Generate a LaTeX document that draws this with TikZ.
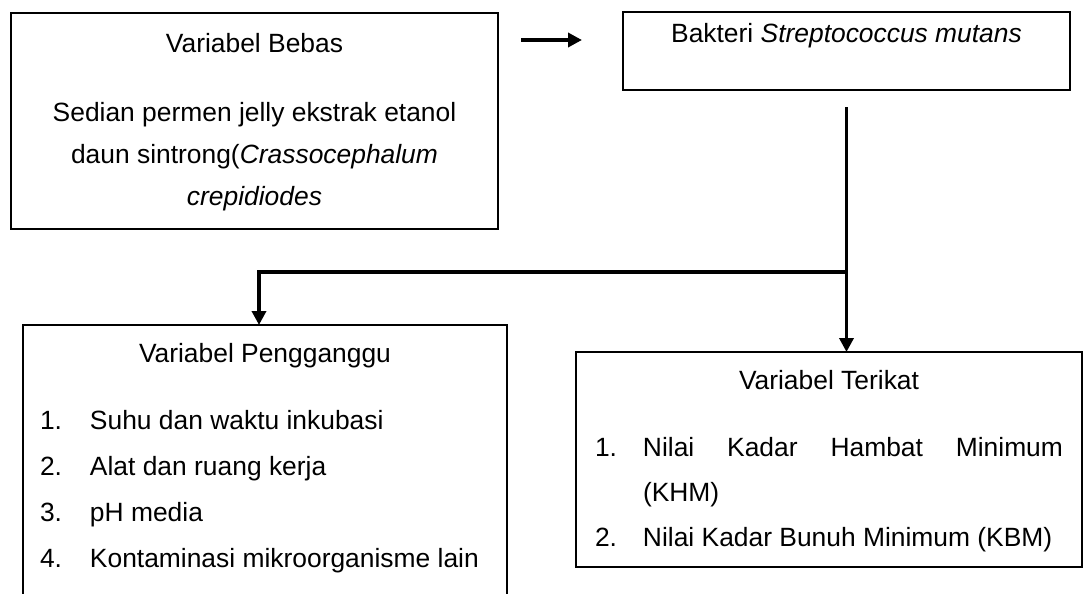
\documentclass[tikz,border=0pt]{standalone}
\usepackage{fontspec}
\setmainfont{Liberation Sans}
\usetikzlibrary{arrows.meta, positioning, calc}

\newcommand{\vitem}[3]{\noindent\hangindent=#1\hangafter=1 \makebox[#1][l]{#2}#3\par}

\begin{document}
\begin{tikzpicture}[
  x=0.5pt, y=-0.5pt,
  varbox/.style={draw, line width=1.25pt, anchor=north west, outer sep=0pt, font=\fontsize{13.2}{21}\selectfont},
  link/.style={line width=1.8pt, -{Triangle[length=7pt, width=7pt]}},
]
  \useasboundingbox (0,0) rectangle (1084,594);

  \node[varbox, inner xsep=10pt, inner ysep=10pt] (bebas) at (11,13) {%
    \parbox[t][88pt][t]{223.5pt}{\centering
      Variabel Bebas\\[13.8pt]
      Sedian permen jelly ekstrak etanol\\
      daun sintrong(\textit{Crassocephalum}\\
      \textit{crepidiodes}}%
  };
  \node[varbox, inner xsep=10pt, inner ysep=5.75pt] (bakteri) at (623,12) {%
    \parbox[t][27.5pt][t]{203.5pt}{\centering
      Bakteri \textit{Streptococcus mutans}}%
  };
  \node[varbox, inner xsep=8.5pt, inner ysep=9.25pt, font=\fontsize{13.2}{23}\selectfont] (ganggu) at (23,325) {%
    \parbox[t][139pt][t]{225pt}{%
      {\centering Variabel Pengganggu\par}
      \vspace{10.5pt}
      \vitem{25pt}{1.}{Suhu dan waktu inkubasi}
      \vitem{25pt}{2.}{Alat dan ruang kerja}
      \vitem{25pt}{3.}{pH media}
      \vitem{25pt}{4.}{Kontaminasi mikroorganisme lain}}%
  };
  \node[varbox, inner xsep=9.5pt, inner ysep=9.25pt, font=\fontsize{13.2}{22.5}\selectfont] (terikat) at (576,352) {%
    \parbox[t][89pt][t]{234pt}{%
      {\centering Variabel Terikat\par}
      \vspace{11pt}
      \vitem{24pt}{1.}{Nilai Kadar Hambat Minimum\linebreak (KHM)}
      \vitem{24pt}{2.}{Nilai Kadar Bunuh Minimum (KBM)}}%
  };

  \coordinate (pa) at (521,40);
  \coordinate (pb) at (582,40);
  \draw[link] (pa) -- (pb);
  \draw[link] ([yshift=-8.5pt]bakteri.south) -- (bakteri.south |- terikat.north);
  \coordinate (split) at ([yshift=-91pt]bakteri.south);
  \draw[link] (split) -| ([xshift=-3pt]ganggu.north);
\end{tikzpicture}
\end{document}
